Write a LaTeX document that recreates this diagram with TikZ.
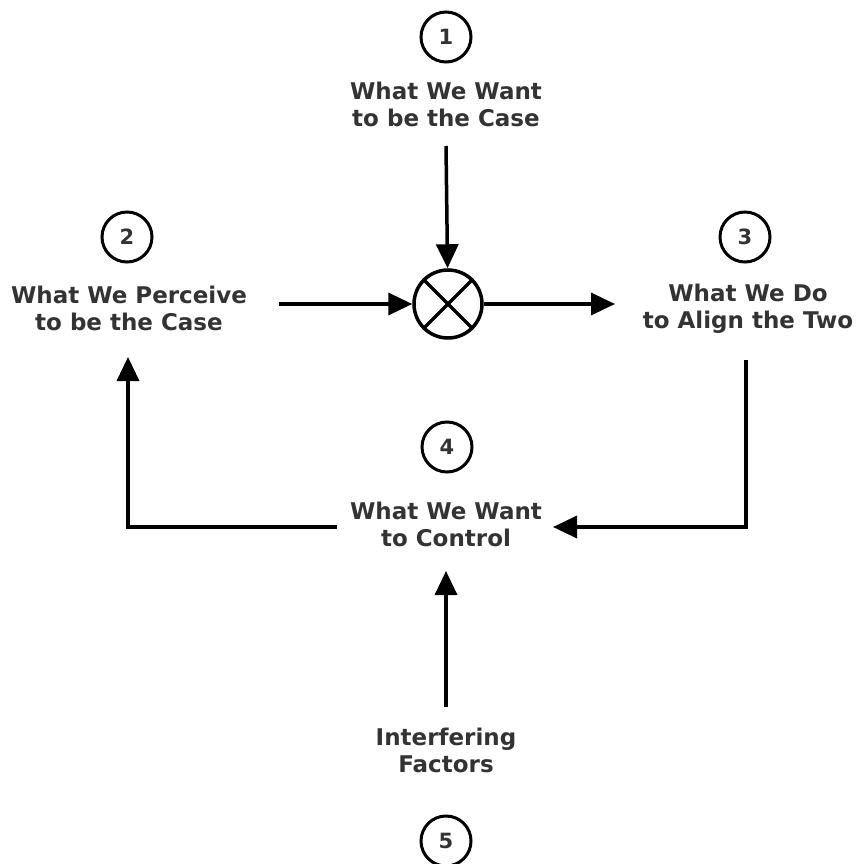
\documentclass[tikz,border=0pt]{standalone}
\usepackage{fontspec}
\setmainfont{DejaVu Sans}
\usetikzlibrary{arrows.meta}
\definecolor{txt}{HTML}{333333}
\begin{document}
\begin{tikzpicture}[x=1pt,y=-1pt,
  numc/.style={circle,draw=black,line width=3pt,minimum size=50pt,inner sep=0pt,text=txt,font=\fontsize{21}{21}\selectfont\bfseries},
  lbl/.style={align=center,text=txt,font=\fontsize{23}{27}\selectfont\bfseries,anchor=base,inner sep=0pt},
  conn/.style={line width=3.5pt},
  arr/.style={conn,-{Triangle[length=24pt,width=22pt]}},
  sumc/.style={circle,draw=black,line width=3.5pt,minimum size=68pt,inner sep=0pt}]
\useasboundingbox (0,0) rectangle (857,864);
% numbered circles
\node[numc] (n1) at (446,37) {1};
\node[numc] (n2) at (127,237) {2};
\node[numc] (n3) at (745,237) {3};
\node[numc] (n4) at (447,447) {4};
\node[numc] (n5) at (446,841) {5};
% labels (anchor = baseline of last line)
\node[lbl] (t1) at (446,126) {What We Want\\to be the Case};
\node[lbl] (t2) at (129,330) {What We Perceive\\to be the Case};
\node[lbl] (t3) at (748,328) {What We Do\\to Align the Two};
\node[lbl] (t4) at (446,546) {What We Want\\to Control};
\node[lbl] (t5) at (446,772) {Interfering\\Factors};
% comparator
\node[sumc] (sum) at (448,304) {};
\draw[conn] ([shift={(45:34)}]sum.center) -- ([shift={(225:34)}]sum.center);
\draw[conn] ([shift={(135:34)}]sum.center) -- ([shift={(315:34)}]sum.center);
% connector end points
\coordinate (a1) at (446,146);
\coordinate (a2) at (279,304);
\coordinate (a3) at (615,304);
\coordinate (b3) at (746,360);
\coordinate (b4r) at (553,527);
\coordinate (b4l) at (337,527);
\coordinate (b2) at (128,357);
\coordinate (b5) at (446,707);
\coordinate (b4b) at (446,571);
% connectors
\draw[arr] (a1) -- (sum);
\draw[arr] (a2) -- (sum);
\draw[arr] (sum) -- (a3);
\draw[arr] (b3) |- (b4r);
\draw[arr] (b4l) -| (b2);
\draw[arr] (b5) -- (b4b);
\end{tikzpicture}
\end{document}
